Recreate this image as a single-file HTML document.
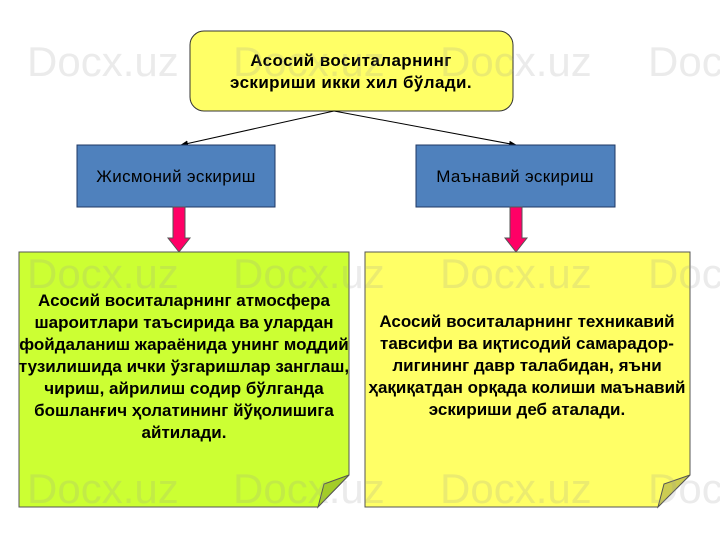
<!DOCTYPE html>
<html><head><meta charset="utf-8"><style>
html,body{margin:0;padding:0;background:#fff;}
svg{display:block;}
text{font-family:"Liberation Sans",sans-serif;}
</style></head><body>
<svg width="720" height="540" viewBox="0 0 720 540" xmlns="http://www.w3.org/2000/svg">
<defs>
<marker id="ah" markerWidth="8" markerHeight="6" refX="7" refY="3" orient="auto" markerUnits="userSpaceOnUse">
<path d="M0,0 L8,3 L0,6 z" fill="#000"/></marker>
</defs>
<rect x="190" y="31" width="323" height="80" rx="14" fill="#ffff66" stroke="#333" stroke-width="1"/>
<text x="351" y="66" font-size="17" font-weight="bold" text-anchor="middle" letter-spacing="0.4">Асосий воситаларнинг</text>
<text x="351" y="88" font-size="17" font-weight="bold" text-anchor="middle" letter-spacing="0.4">эскириши икки хил бўлади.</text>
<line x1="334" y1="111" x2="181" y2="145" stroke="#000" stroke-width="1" marker-end="url(#ah)"/>
<line x1="334" y1="111" x2="516" y2="145" stroke="#000" stroke-width="1" marker-end="url(#ah)"/>
<rect x="77" y="145" width="198" height="62" fill="#4f81bd" stroke="#1f3864" stroke-width="1"/>
<text x="176" y="182" font-size="17" text-anchor="middle" letter-spacing="0.3">Жисмоний эскириш</text>
<rect x="416" y="145" width="199" height="62" fill="#4f81bd" stroke="#1f3864" stroke-width="1"/>
<text x="515" y="182" font-size="17" text-anchor="middle" letter-spacing="0.3">Маънавий эскириш</text>
<path d="M173,207 H185 V238 H190 L179,252 L168,238 H173 Z" fill="#ff0066" stroke="#555" stroke-width="1"/>
<path d="M510,207 H522 V238 H527 L516,252 L505,238 H510 Z" fill="#ff0066" stroke="#555" stroke-width="1"/>
<path d="M19,252 H349 V475 L318,507 H19 Z" fill="#ccff33" stroke="#555" stroke-width="1"/>
<path d="M349,475 L324,484 L318,507 Z" fill="#a3cc29" stroke="#555" stroke-width="1"/>
<path d="M365,252 H690 V475 L658,507 H365 Z" fill="#ffff66" stroke="#555" stroke-width="1"/>
<path d="M690,475 L664,484 L658,507 Z" fill="#cccc52" stroke="#555" stroke-width="1"/>
<g font-size="17" font-weight="bold" text-anchor="middle">
<text x="184" y="306">Асосий воситаларнинг атмосфера</text>
<text x="184" y="328">шароитлари таъсирида ва улардан</text>
<text x="184" y="350">фойдаланиш жараёнида унинг моддий</text>
<text x="184" y="372">тузилишида ички ўзгаришлар занглаш,</text>
<text x="184" y="394">чириш, айрилиш содир бўлганда</text>
<text x="184" y="416">бошланғич ҳолатининг йўқолишига</text>
<text x="184" y="438">айтилади.</text>
<text x="527" y="327">Асосий воситаларнинг техникавий</text>
<text x="527" y="349">тавсифи ва иқтисодий самарадор-</text>
<text x="527" y="371">лигининг давр талабидан, яъни</text>
<text x="527" y="393">ҳақиқатдан орқада колиши маънавий</text>
<text x="527" y="415">эскириши деб аталади.</text>
</g>
<g font-size="42" fill="#999" fill-opacity="0.2">
<text x="27" y="76">Docx.uz</text><text x="233" y="76">Docx.uz</text><text x="440" y="76">Docx.uz</text><text x="648" y="76">Docx.uz</text>
<text x="27" y="288">Docx.uz</text><text x="233" y="288">Docx.uz</text><text x="440" y="288">Docx.uz</text><text x="648" y="288">Docx.uz</text>
<text x="27" y="503">Docx.uz</text><text x="233" y="503">Docx.uz</text><text x="440" y="503">Docx.uz</text><text x="648" y="503">Docx.uz</text>
</g>
</svg>
</body></html>
